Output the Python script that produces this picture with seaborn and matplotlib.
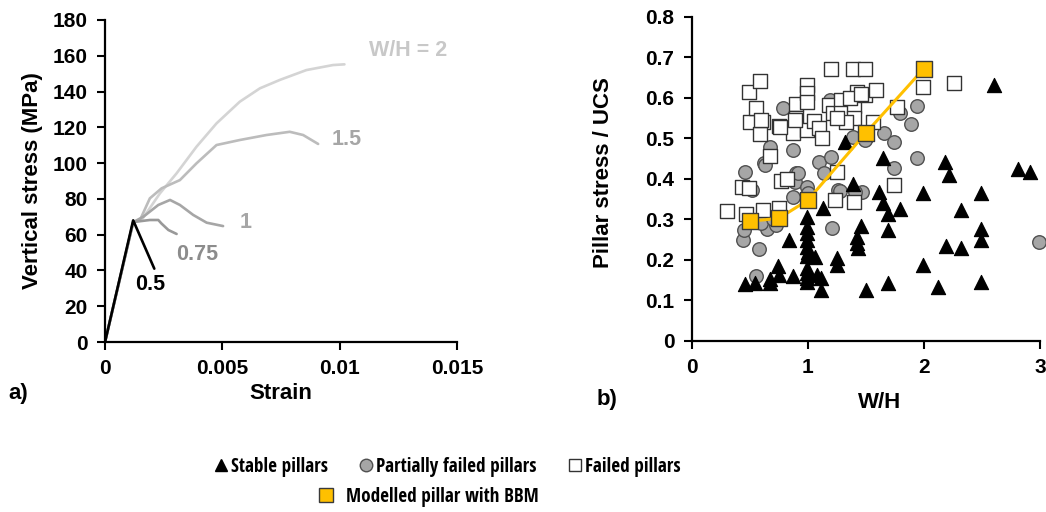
import numpy as np
import pandas as pd
import matplotlib
matplotlib.use("Agg")
import matplotlib.pyplot as plt
from matplotlib import font_manager
from matplotlib.lines import Line2D
import seaborn as sns

# ---------------- data: stress-strain curves (panel a) ----------------
strain_05 = [0.0, 0.00120, 0.00210]
stress_05 = [0.0, 68.0, 41.0]

strain_075 = [0.0, 0.00120, 0.00135, 0.00191, 0.00227, 0.00240, 0.00270, 0.00305]
stress_075 = [0.0, 67.0, 67.3, 68.2, 68.2, 66.3, 62.6, 60.4]

strain_1 = [0.0, 0.00120, 0.00163, 0.00227, 0.00277, 0.00319, 0.00376, 0.00433, 0.00503]
stress_1 = [0.0, 67.0, 70.0, 76.6, 79.4, 76.6, 71.0, 66.7, 64.8]

strain_15 = [0.0, 0.00120, 0.00149, 0.00191, 0.00241, 0.00319, 0.00390, 0.00475,
             0.00574, 0.00688, 0.00787, 0.00844, 0.00908]
stress_15 = [0.0, 67.0, 68.2, 80.3, 85.9, 90.5, 99.9, 110.1,
             112.9, 115.7, 117.5, 115.7, 110.7]

strain_2 = [0.0, 0.00120, 0.00155, 0.00234, 0.00305, 0.00390, 0.00475, 0.00574,
            0.00660, 0.00745, 0.00858, 0.00971, 0.01020]
stress_2 = [0.0, 67.0, 68.0, 83.1, 94.3, 109.2, 122.2, 134.3,
            141.8, 146.5, 152.0, 154.8, 155.2]

curve_names = ["W/H = 2", "1.5", "1", "0.75", "0.5"]

# ---------------- data: pillar database (panel b) ----------------
stable_wh = [0.46, 0.545, 0.67, 0.67, 0.746, 0.754, 0.875, 0.84,
             0.99, 0.99, 0.99, 0.99, 0.99, 1.0, 0.99, 0.99, 0.99, 0.99, 0.99,
             1.06, 1.08, 1.11, 1.11, 1.13, 1.25, 1.25, 1.32, 1.39, 1.42, 1.42,
             1.43, 1.46, 1.50, 1.61, 1.65, 1.65, 1.69, 1.69, 1.69, 1.79,
             1.99, 1.99, 2.12, 2.18, 2.22, 2.19, 2.32, 2.32, 2.49, 2.49,
             2.49, 2.49, 2.60, 2.81, 2.91]
stable_ratio = [0.140, 0.143, 0.153, 0.143, 0.184, 0.162, 0.160, 0.249,
                0.306, 0.281, 0.265, 0.249, 0.232, 0.220, 0.208, 0.179, 0.167, 0.154, 0.146,
                0.207, 0.162, 0.154, 0.125, 0.327, 0.203, 0.187, 0.491, 0.388, 0.257, 0.240,
                0.228, 0.283, 0.125, 0.368, 0.450, 0.339, 0.314, 0.273, 0.143, 0.324,
                0.365, 0.187, 0.133, 0.440, 0.409, 0.234, 0.323, 0.228, 0.364, 0.277,
                0.249, 0.146, 0.631, 0.423, 0.417]

partial_wh = [0.445, 0.45, 0.46, 0.52, 0.554, 0.58, 0.53, 0.62, 0.67, 0.645,
              0.73, 0.79, 0.875, 0.875, 0.90, 0.89, 0.99, 1.0, 1.10, 1.14,
              1.20, 1.19, 1.21, 1.26, 1.39, 1.47, 1.50, 1.66, 1.74, 1.74,
              1.79, 1.89, 1.94, 1.94, 2.99, 0.917, 0.60, 0.70, 1.276, 1.405,
              1.49, 0.63]
partial_ratio = [0.249, 0.273, 0.417, 0.372, 0.160, 0.226, 0.294, 0.438, 0.479, 0.277,
                 0.286, 0.574, 0.472, 0.356, 0.413, 0.393, 0.380, 0.364, 0.442, 0.413,
                 0.454, 0.594, 0.279, 0.372, 0.504, 0.368, 0.500, 0.512, 0.491, 0.426,
                 0.561, 0.535, 0.579, 0.450, 0.244, 0.413, 0.290, 0.300, 0.370, 0.366,
                 0.496, 0.434]

failed_wh = [0.30, 0.43, 0.49, 0.49, 0.47, 0.50, 0.55, 0.59, 0.61, 0.59,
             0.61, 0.67, 0.75, 0.75, 0.77, 0.82, 0.87, 0.90, 0.90, 0.99,
             0.99, 0.99, 0.99, 1.05, 1.10, 1.12, 1.20, 1.18, 1.22, 1.25,
             1.23, 1.29, 1.29, 1.39, 1.49, 1.40, 1.42, 1.40, 1.40, 1.49,
             1.56, 1.59, 1.77, 1.74, 1.99, 2.26, 0.60, 0.76, 0.89, 1.33,
             1.36, 1.46, 1.25]
failed_ratio = [0.321, 0.379, 0.376, 0.615, 0.314, 0.541, 0.574, 0.640, 0.541, 0.510,
                0.323, 0.456, 0.530, 0.327, 0.395, 0.399, 0.512, 0.584, 0.549, 0.631,
                0.611, 0.590, 0.520, 0.543, 0.524, 0.500, 0.671, 0.582, 0.561, 0.417,
                0.347, 0.594, 0.561, 0.671, 0.671, 0.579, 0.615, 0.549, 0.343, 0.607,
                0.541, 0.619, 0.576, 0.384, 0.626, 0.637, 0.545, 0.527, 0.545, 0.540,
                0.600, 0.610, 0.550]

model_wh = [0.5, 0.75, 1.0, 1.5, 2.0]
model_ratio = [0.295, 0.302, 0.347, 0.513, 0.672]

# ---------------- styling ----------------
sns.set_theme(style="ticks")


def first_available(families):
    for fam in families:
        try:
            font_manager.findfont(font_manager.FontProperties(family=fam),
                                  fallback_to_default=False)
            return fam
        except ValueError:
            continue
    return None


main_font = first_available(["Liberation Sans", "Arial"]) or "DejaVu Sans"
narrow_font = first_available(["Liberation Sans Narrow", "Arial Narrow",
                               "Noto Sans Condensed", "Open Sans Condensed"])
if narrow_font is None:
    narrow_font, legend_size = main_font, 12.0
elif "Narrow" in narrow_font:
    legend_size = 14.4
else:
    legend_size = 13.8

plt.rcParams["font.family"] = [main_font, "DejaVu Sans"]
plt.rcParams["font.weight"] = "bold"
plt.rcParams["axes.labelweight"] = "bold"
plt.rcParams["text.color"] = "black"
plt.rcParams["axes.labelcolor"] = "black"
plt.rcParams["xtick.color"] = "black"
plt.rcParams["ytick.color"] = "black"
plt.rcParams["legend.labelcolor"] = "black"

fig = plt.figure(figsize=(10.46, 5.12), dpi=100)
ax_a = fig.add_axes([0.1004, 0.332, 0.3366, 0.629])
ax_b = fig.add_axes([0.6613, 0.3346, 0.3330, 0.6328])

tick_fs = 15
label_fs = 16

for ax in (ax_a, ax_b):
    sns.despine(ax=ax)
    for side in ("left", "bottom"):
        ax.spines[side].set_color("black")
        ax.spines[side].set_linewidth(1.6)
    ax.tick_params(axis="both", direction="out", length=5.5, width=1.5,
                   colors="black", labelcolor="black", labelsize=tick_fs, pad=7)
    ax.set_facecolor("white")
    ax.grid(False)

# ---------------- panel a: stress-strain curves ----------------
curves = [
    (strain_2, stress_2, "#d4d4d4"),
    (strain_15, stress_15, "#bcbcbc"),
    (strain_1, stress_1, "#a6a6a6"),
    (strain_075, stress_075, "#999999"),
    (strain_05, stress_05, "#000000"),
]
for xs, ys, col in curves:
    sns.lineplot(x=xs, y=ys, sort=False, estimator=None, color=col,
                 linewidth=1.9, ax=ax_a)

ax_a.set_xlim(0, 0.015)
ax_a.set_ylim(0, 180)
ax_a.set_xticks([0, 0.005, 0.01, 0.015])
ax_a.set_xticklabels(["0", "0.005", "0.01", "0.015"], fontweight="bold",
                     fontsize=tick_fs, color="black")
ax_a.set_yticks(np.arange(0, 181, 20))
ax_a.set_yticklabels([str(v) for v in range(0, 181, 20)], fontweight="bold",
                     fontsize=tick_fs, color="black")
ax_a.set_xlabel("Strain", fontsize=label_fs, fontweight="bold", color="black")
ax_a.set_ylabel("Vertical stress (MPa)", fontsize=label_fs, fontweight="bold", color="black")
ax_a.xaxis.set_label_coords(0.5, -0.127)
ax_a.yaxis.set_label_coords(-0.176, 0.5)

curve_labels = [
    ("W/H = 2", 0.01123, 162.8, "#c8c8c8"),
    ("1.5", 0.00965, 113.0, "#a6a6a6"),
    ("1", 0.00574, 67.0, "#a6a6a6"),
    ("0.75", 0.00301, 48.9, "#8c8c8c"),
    ("0.5", 0.00128, 31.9, "#000000"),
]
for txt, x, y, col in curve_labels:
    ax_a.text(x, y, txt, color=col, fontsize=15.5, fontweight="bold",
              ha="left", va="center", clip_on=False)

# ---------------- panel b: pillar database ----------------
sns.scatterplot(x=partial_wh, y=partial_ratio, marker="o", s=95,
                color="#a6a6a6", edgecolor="#505050", linewidth=1.0, ax=ax_b, zorder=3)
sns.scatterplot(x=failed_wh, y=failed_ratio, marker="s", s=105,
                color="white", edgecolor="#333333", linewidth=1.0, ax=ax_b, zorder=4)
sns.scatterplot(x=stable_wh, y=stable_ratio, marker="^", s=105,
                color="black", edgecolor="black", linewidth=0.8, ax=ax_b, zorder=5)
sns.lineplot(x=model_wh, y=model_ratio, sort=False, estimator=None,
             color="#FFC000", linewidth=2.2, ax=ax_b, zorder=6)
sns.scatterplot(x=model_wh, y=model_ratio, marker="s", s=140,
                color="#FFC000", edgecolor="#3a3a3a", linewidth=1.0, ax=ax_b, zorder=7)

ax_b.set_xlim(0, 3)
ax_b.set_ylim(0, 0.8)
ax_b.set_xticks([0, 1, 2, 3])
ax_b.set_xticklabels(["0", "1", "2", "3"], fontweight="bold", fontsize=tick_fs, color="black")
ax_b.set_yticks(np.round(np.arange(0, 0.81, 0.1), 1))
ax_b.set_yticklabels(["0", "0.1", "0.2", "0.3", "0.4", "0.5", "0.6", "0.7", "0.8"],
                     fontweight="bold", fontsize=tick_fs, color="black")
ax_b.set_xlabel("W/H", fontsize=label_fs, fontweight="bold", color="black")
ax_b.set_ylabel("Pillar stress / UCS", fontsize=label_fs, fontweight="bold", color="black")
ax_b.xaxis.set_label_coords(0.54, -0.158)
ax_b.yaxis.set_label_coords(-0.222, 0.52)
for coll in ax_b.collections:
    coll.set_clip_on(False)

# panel tags
fig.text(8 / 1046, 1 - 393 / 512, "a)", fontsize=16, fontweight="bold",
         ha="left", va="center", color="black")
fig.text(597 / 1046, 1 - 399 / 512, "b)", fontsize=16, fontweight="bold",
         ha="left", va="center", color="black")

# ---------------- legend ----------------
leg_prop = {"family": narrow_font, "weight": "bold", "size": legend_size}
row1 = [
    Line2D([], [], linestyle="none", marker="^", markersize=9,
           markerfacecolor="black", markeredgecolor="black"),
    Line2D([], [], linestyle="none", marker="o", markersize=9,
           markerfacecolor="#a6a6a6", markeredgecolor="#505050"),
    Line2D([], [], linestyle="none", marker="s", markersize=8.5,
           markerfacecolor="white", markeredgecolor="#333333"),
]
leg1 = fig.legend(row1, ["Stable pillars", "Partially failed pillars", "Failed pillars"],
                  loc="center", bbox_to_anchor=(0.427, 0.088), ncol=3, frameon=False,
                  prop=leg_prop, handlelength=0.8, handletextpad=0.12,
                  columnspacing=1.6, borderaxespad=0, labelcolor="black")
row2 = [Line2D([], [], linestyle="none", marker="s", markersize=10.5,
               markerfacecolor="#FFC000", markeredgecolor="#3a3a3a")]
leg2 = fig.legend(row2, ["Modelled pillar with BBM"], loc="center",
                  bbox_to_anchor=(0.41, 0.029), frameon=False, prop=leg_prop,
                  handlelength=0.8, handletextpad=0.65, borderaxespad=0,
                  labelcolor="black")

fig.savefig("out.png", dpi=100, facecolor="white")
